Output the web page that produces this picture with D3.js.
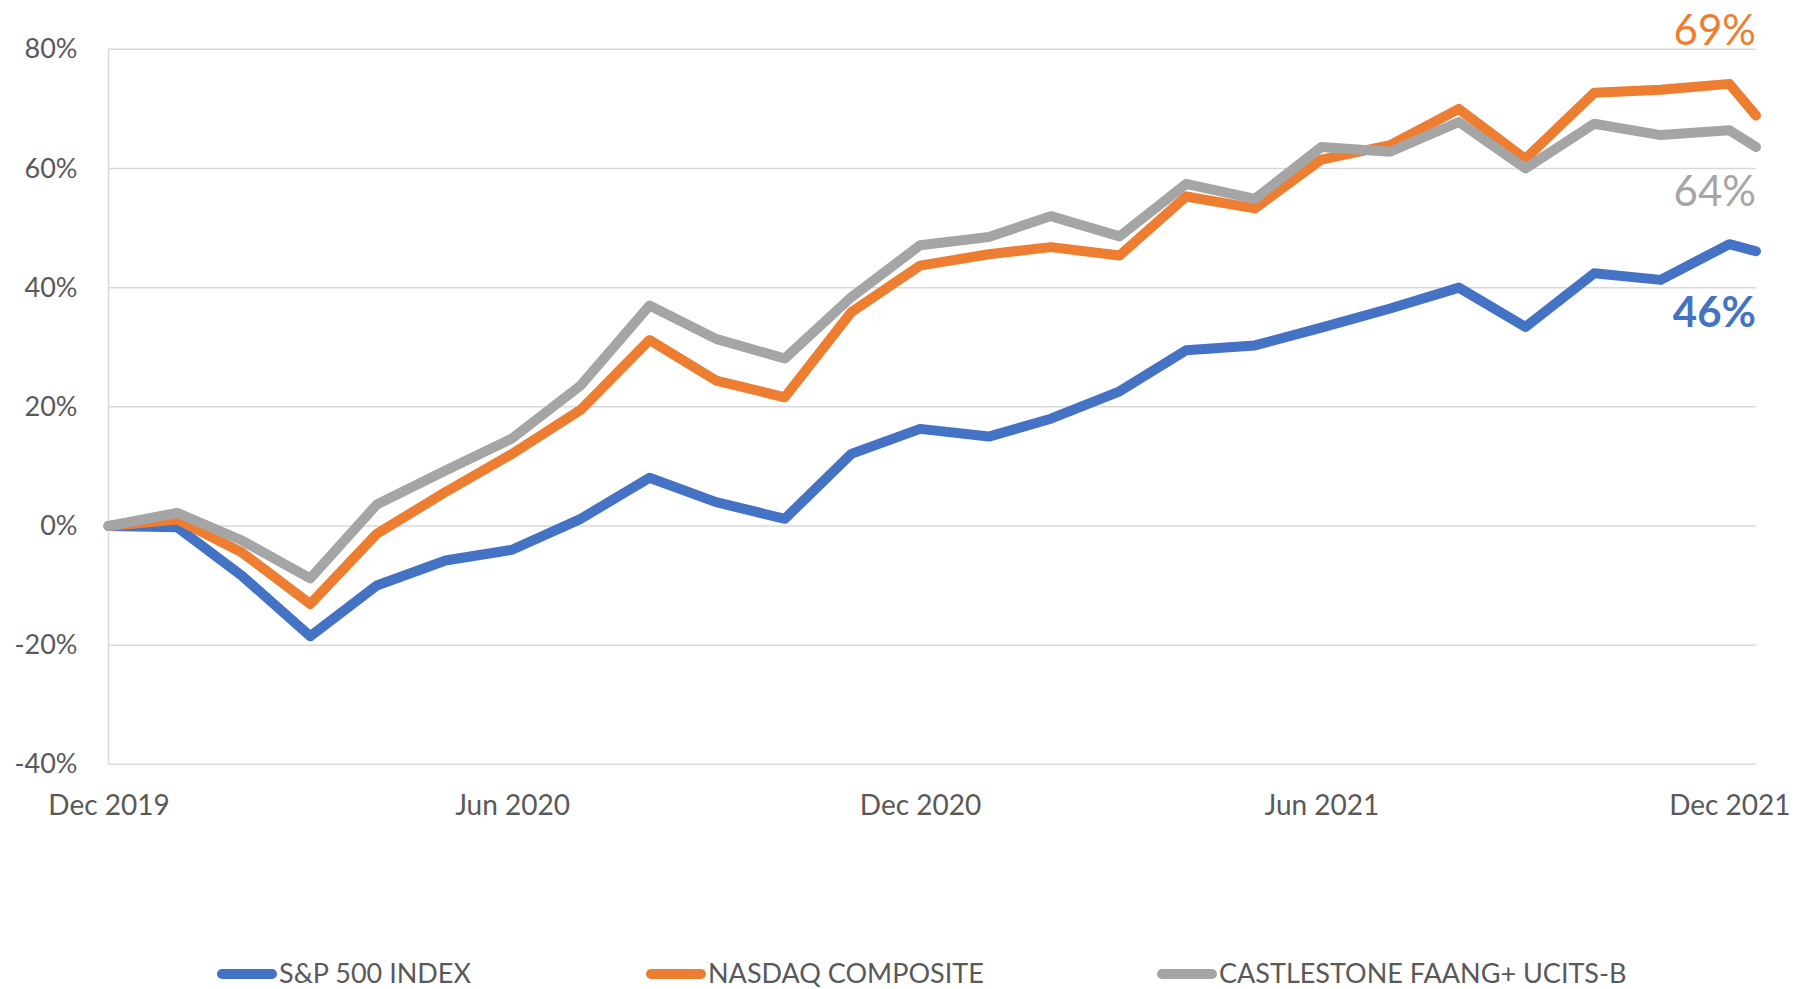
<!DOCTYPE html>
<html>
<head>
<meta charset="utf-8">
<script src="https://cdn.jsdelivr.net/npm/d3@7"></script>
<style>
  body { margin: 0; background: #fff; }
  text { font-family: "Lato", "Open Sans", sans-serif; }
</style>
</head>
<body>
<div id="lineChart"></div>
<script>
// Data (month-end dates, cumulative return in %)
var dates = ["2019-12-31", "2020-01-31", "2020-02-29", "2020-03-31", "2020-04-30", "2020-05-31",
             "2020-06-30", "2020-07-31", "2020-08-31", "2020-09-30", "2020-10-31", "2020-11-30",
             "2020-12-31", "2021-01-31", "2021-02-28", "2021-03-31", "2021-04-30", "2021-05-31",
             "2021-06-30", "2021-07-31", "2021-08-31", "2021-09-30", "2021-10-31", "2021-11-30",
             "2021-12-31", "2022-01-12"];
var sp500  = [0, -0.2, -8.3, -18.5, -10.0, -5.8, -4.0, 1.2, 8.1, 4.0, 1.2, 12.1, 16.3, 15.0, 18.0,
              22.6, 29.5, 30.3, 33.3, 36.5, 40.0, 33.4, 42.4, 41.3, 47.3, 46.1];
var nasdaq = [0, 1.1, -4.4, -13.1, -1.3, 5.7, 12.1, 19.5, 31.2, 24.4, 21.6, 35.9, 43.7, 45.6, 46.8,
              45.4, 55.3, 53.3, 61.5, 63.9, 70.0, 61.6, 72.7, 73.2, 74.2, 68.9];
var faang  = [0, 2.2, -2.4, -8.8, 3.6, 9.3, 14.7, 23.6, 37.0, 31.4, 28.1, 38.4, 47.1, 48.5, 52.0,
              48.6, 57.4, 54.9, 63.6, 62.8, 67.8, 60.0, 67.5, 65.6, 66.4, 63.6];
var seriesNames = ["S&P 500 INDEX", "NASDAQ COMPOSITE", "CASTLESTONE FAANG+ UCITS-B"];
var xTickDates = ["2019-12-31", "2020-06-30", "2020-12-31", "2021-06-30", "2021-12-31"];
var yTicks = [-40, -20, 0, 20, 40, 60, 80];

var colors = ["#4472C4", "#ED7D31", "#A5A5A5"];
var W = 1811, H = 989;
var margin = { left: 108.5, right: 1756, top: 49.3, bottom: 764.3 };

var parseTime = d3.timeParse("%Y-%m-%d");
var dts = dates.map(parseTime);

var series = [sp500, nasdaq, faang].map(function(vals, i) {
  return { name: seriesNames[i], color: colors[i],
           values: vals.map(function(v, j) { return { date: dts[j], value: v }; }) };
});

// Scales
var x = d3.scaleTime().domain(d3.extent(dts)).range([margin.left, margin.right]);
var y = d3.scaleLinear().domain([-40, 80]).range([margin.bottom, margin.top]);

var svg = d3.select("#lineChart").append("svg")
  .attr("width", W).attr("height", H);

// gridlines
svg.append("g")
  .attr("class", "grid")
  .selectAll("line")
  .data(yTicks)
  .enter().append("line")
    .attr("x1", margin.left).attr("x2", margin.right)
    .attr("y1", function(d) { return y(d); })
    .attr("y2", function(d) { return y(d); })
    .attr("stroke", "#D9D9D9")
    .attr("stroke-width", 1.5);

// y axis line
svg.append("line")
  .attr("x1", margin.left).attr("x2", margin.left)
  .attr("y1", margin.top).attr("y2", margin.bottom)
  .attr("stroke", "#D9D9D9").attr("stroke-width", 1.5);

// Axes (labels only)
var yAxis = svg.append("g")
  .attr("transform", "translate(" + (margin.left - 31) + ",0)")
  .call(d3.axisLeft(y).tickValues(yTicks).tickSize(0).tickFormat(function(d) { return d + "%"; }));
yAxis.select(".domain").remove();
yAxis.selectAll("text")
  .attr("x", 0)
  .style("font-family", "Lato")
  .style("font-size", "27px")
  .attr("fill", "#595959");

var xAxis = svg.append("g")
  .attr("transform", "translate(0," + margin.bottom + ")")
  .call(d3.axisBottom(x).tickValues(xTickDates.map(parseTime)).tickSize(0)
    .tickFormat(d3.timeFormat("%b %Y")));
xAxis.select(".domain").remove();
xAxis.selectAll("text")
  .attr("y", 0)
  .attr("dy", "0")
  .attr("transform", "translate(0,51)")
  .style("font-family", "Lato")
  .style("font-size", "28px")
  .attr("fill", "#595959");

// Data Lines
var line = d3.line()
  .x(function(d) { return x(d.date); })
  .y(function(d) { return y(d.value); });

svg.append("g")
  .selectAll("path")
  .data(series)
  .enter().append("path")
    .attr("d", function(d) { return line(d.values); })
    .attr("fill", "none")
    .attr("stroke", function(d) { return d.color; })
    .attr("stroke-width", 10)
    .attr("stroke-linejoin", "round")
    .attr("stroke-linecap", "round");

// End labels
var endLabels = [
  { s: series[1], baseline: 45, weight: "normal" },
  { s: series[2], baseline: 206, weight: "normal" },
  { s: series[0], baseline: 327, weight: "bold" }
];
svg.append("g")
  .selectAll("text")
  .data(endLabels)
  .enter().append("text")
    .attr("x", 1756)
    .attr("y", function(d) { return d.baseline; })
    .attr("text-anchor", "end")
    .style("font-size", "42px")
    .style("font-weight", function(d) { return d.weight; })
    .attr("fill", function(d) { return d.s.color; })
    .text(function(d) { return Math.round(d.s.values[d.s.values.length - 1].value) + "%"; });

// Legend
var legendX = [217, 646, 1157], legendY = 974;
var legend = svg.append("g")
  .selectAll("g")
  .data(series)
  .enter().append("g")
    .attr("transform", function(d, i) { return "translate(" + legendX[i] + "," + legendY + ")"; });
legend.append("line")
  .attr("x1", 5).attr("x2", 55)
  .attr("stroke", function(d) { return d.color; })
  .attr("stroke-width", 10)
  .attr("stroke-linecap", "round");
legend.append("text")
  .attr("x", 62)
  .attr("dy", "0.35em")
  .style("font-size", "27px")
  .attr("fill", "#595959")
  .text(function(d) { return d.name; });
</script>
</body>
</html>
